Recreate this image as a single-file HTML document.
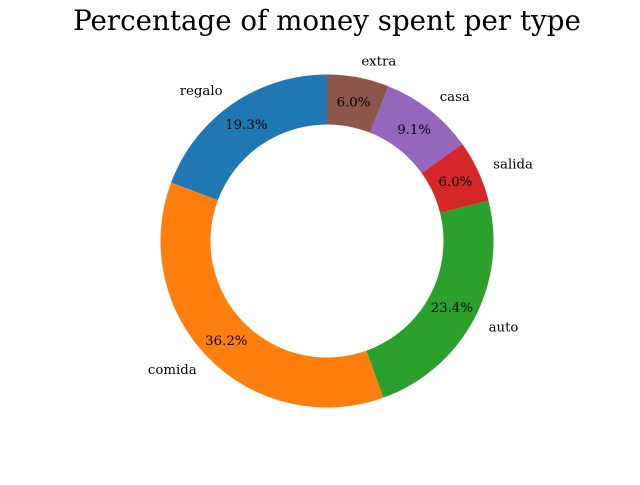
<!DOCTYPE html>
<html><head><meta charset="utf-8"><style>
body{margin:0;background:#fff;}
svg text{font-family:"DejaVu Serif","Liberation Serif",serif;}
</style></head><body>
<svg id="chart" width="640" height="480" viewBox="0 0 640 480" xmlns="http://www.w3.org/2000/svg">
<text x="327" y="30" text-anchor="middle" font-size="27.7">Percentage of money spent per type</text>
<g id="slices"></g>
</svg>
<script>
const categories = ["regalo","comida","auto","salida","casa","extra"];
const values = [19.3,36.2,23.4,6.0,9.1,6.0];
const pctLabels = ["19.3%","36.2%","23.4%","6.0%","9.1%","6.0%"];
const colors = ["#1f77b4","#ff7f0e","#2ca02c","#d62728","#9467bd","#8c564b"];
const cx=327, cy=241, R=166.5, r=116.5;
const g=document.getElementById('slices');
const NS="http://www.w3.org/2000/svg";
const total=values.reduce((a,b)=>a+b,0);
function pt(rad,deg){const t=deg*Math.PI/180;return [cx+rad*Math.cos(t),cy-rad*Math.sin(t)];}
let a=90;
values.forEach((v,i)=>{
  const sweep=v/total*360, a2=a+sweep;
  const [x1,y1]=pt(R,a),[x2,y2]=pt(R,a2),[x3,y3]=pt(r,a2),[x4,y4]=pt(r,a);
  const large=sweep>180?1:0;
  const p=document.createElementNS(NS,'path');
  p.setAttribute('d',`M${x1},${y1} A${R},${R} 0 ${large} 0 ${x2},${y2} L${x3},${y3} A${r},${r} 0 ${large} 1 ${x4},${y4} Z`);
  p.setAttribute('fill',colors[i]);
  
  
  g.appendChild(p);
  const mid=a+sweep/2;
  const [lx,ly]=pt(R*1.1,mid);
  const t=document.createElementNS(NS,'text');
  t.setAttribute('x',lx);t.setAttribute('y',ly+4.5);t.setAttribute('font-size','13.3');
  t.setAttribute('text-anchor',lx<cx?'end':'start');
  t.textContent=categories[i];
  
  
  g.appendChild(t);
  const [px,py]=pt(R*0.85,mid);
  const q=document.createElementNS(NS,'text');
  q.setAttribute('x',px);q.setAttribute('y',py+4.5);q.setAttribute('font-size','13.3');
  q.setAttribute('text-anchor','middle');
  q.textContent=pctLabels[i];
  
  
  g.appendChild(q);
  a=a2;
});
</script>
</body></html>
